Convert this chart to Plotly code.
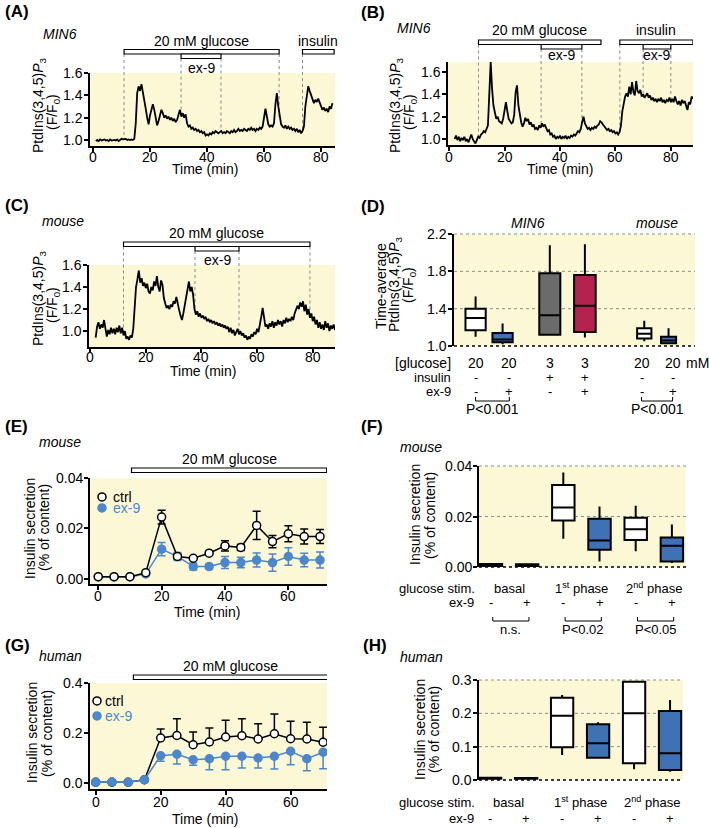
import plotly.graph_objects as go

W, H = 709, 828
FONT = "Liberation Sans, Arial, sans-serif"
YELLOW = "#fcf7d5"
BLUE = "#3e72b5"
BLUE_PT = "#4b87cc"
GREY = "#6b6b6b"
CRIMSON = "#b2234f"

# ---------------- data ----------------
# (A) MIN6, PtdIns(3,4,5)P3 ratio, one value per 0.5 min starting at 1 min
a_ratio = [
    0.99, 1.00, 0.99, 1.005, 0.995, 1.00, 1.005, 0.995, 1.00, 0.99,
    1.005, 0.995, 1.00, 1.00, 0.995, 1.005, 0.99, 1.00, 1.01, 1.005,
    1.005, 1.01, 1.00, 1.005, 1.00, 1.005, 1.00, 1.01, 1.15, 1.42,
    1.48, 1.44, 1.50, 1.43, 1.38, 1.28, 1.20, 1.14, 1.22, 1.28,
    1.32, 1.27, 1.20, 1.13, 1.17, 1.22, 1.27, 1.24, 1.20, 1.22,
    1.19, 1.21, 1.18, 1.20, 1.17, 1.19, 1.16, 1.18, 1.22, 1.27,
    1.21, 1.24, 1.20, 1.23, 1.15, 1.12, 1.13, 1.10, 1.11, 1.09,
    1.10, 1.08, 1.09, 1.07, 1.08, 1.06, 1.07, 1.04, 1.05, 1.04,
    1.06, 1.05, 1.07, 1.06, 1.08, 1.07, 1.06, 1.07, 1.08, 1.06,
    1.07, 1.06, 1.08, 1.07, 1.06, 1.08, 1.07, 1.09, 1.07, 1.08,
    1.10, 1.08, 1.09, 1.08, 1.10, 1.09, 1.08, 1.10, 1.09, 1.11,
    1.09, 1.10, 1.08, 1.10, 1.09, 1.11, 1.10, 1.12, 1.22, 1.28,
    1.21, 1.14, 1.12, 1.13, 1.12, 1.15, 1.32, 1.42, 1.30, 1.20,
    1.14, 1.12, 1.11, 1.13, 1.10, 1.12, 1.10, 1.11, 1.09, 1.10,
    1.08, 1.10, 1.07, 1.09, 1.06, 1.08, 1.12, 1.30, 1.42, 1.48,
    1.44, 1.40, 1.36, 1.33, 1.36, 1.34, 1.37, 1.33, 1.30, 1.27,
    1.29, 1.26, 1.28, 1.25, 1.30, 1.28, 1.33,
]
# (B) MIN6, starting at 2 min
b_ratio = [
    1.00, 1.03, 0.99, 1.02, 0.98, 1.01, 0.99, 1.02, 0.98, 1.00,
    0.97, 1.01, 1.04, 1.00, 0.98, 0.96, 0.99, 1.02, 1.01, 1.04,
    1.05, 1.07, 1.06, 1.09, 1.12, 1.40, 1.69, 1.45, 1.30, 1.24,
    1.18, 1.20, 1.16, 1.15, 1.14, 1.18, 1.28, 1.33, 1.25, 1.18,
    1.16, 1.14, 1.15, 1.22, 1.42, 1.48, 1.30, 1.20, 1.15, 1.11,
    1.14, 1.19, 1.16, 1.18, 1.13, 1.15, 1.11, 1.13, 1.09, 1.10,
    1.08, 1.12, 1.10, 1.14, 1.11, 1.13, 1.09, 1.07, 1.08, 1.04,
    1.05, 1.02, 1.03, 1.00, 1.02, 1.01, 1.03, 1.00, 1.02, 1.01,
    1.03, 1.00, 1.02, 1.01, 1.03, 1.02, 1.04, 1.03, 1.05, 1.07,
    1.06, 1.09, 1.15, 1.20, 1.14, 1.11, 1.09, 1.10, 1.08, 1.10,
    1.09, 1.11, 1.10, 1.12, 1.13, 1.16, 1.15, 1.13, 1.11, 1.10,
    1.08, 1.09, 1.07, 1.08, 1.06, 1.07, 1.05, 1.06, 1.04, 1.06,
    1.12, 1.25, 1.33, 1.38, 1.41, 1.38, 1.47, 1.40, 1.51, 1.42,
    1.39, 1.52, 1.43, 1.41, 1.44, 1.38, 1.40, 1.37, 1.39, 1.41,
    1.37, 1.39, 1.35, 1.37, 1.34, 1.36, 1.33, 1.36, 1.34, 1.37,
    1.33, 1.35, 1.32, 1.35, 1.34, 1.37, 1.33, 1.36, 1.33, 1.38,
    1.34, 1.31, 1.34, 1.30, 1.35, 1.32, 1.34, 1.29, 1.26, 1.33,
    1.31, 1.38, 1.36,
]
# (C) mouse beta cell, starting at 2 min
c_ratio = [
    0.94, 1.04, 1.08, 1.02, 1.06, 1.03, 1.10, 1.00, 0.95, 1.01,
    0.97, 1.03, 0.98, 1.02, 0.97, 1.03, 0.99, 1.05, 0.98, 1.03,
    0.96, 1.00, 0.93, 0.95, 0.92, 0.96, 0.94, 1.02, 1.20, 1.40,
    1.47, 1.55, 1.44, 1.48, 1.41, 1.44, 1.39, 1.43, 1.36, 1.34,
    1.40, 1.37, 1.45, 1.41, 1.50, 1.40, 1.36, 1.46, 1.42, 1.30,
    1.25, 1.21, 1.23, 1.20, 1.24, 1.22, 1.27, 1.25, 1.31, 1.24,
    1.19, 1.14, 1.10, 1.16, 1.24, 1.30, 1.38, 1.45, 1.36, 1.40,
    1.33, 1.20, 1.15, 1.18, 1.13, 1.16, 1.12, 1.14, 1.11, 1.13,
    1.09, 1.11, 1.08, 1.10, 1.07, 1.09, 1.06, 1.08, 1.05, 1.07,
    1.04, 1.06, 1.03, 1.05, 1.02, 1.04, 0.99, 1.03, 0.98, 1.01,
    0.96, 0.99, 1.02, 0.97, 1.00, 0.96, 0.98, 0.94, 0.96, 0.92,
    0.95, 0.93, 0.97, 0.95, 0.99, 0.97, 1.02, 0.99, 1.05, 1.13,
    1.21, 1.10, 1.04, 1.06, 1.02, 1.07, 1.04, 1.09, 1.03, 1.08,
    1.05, 1.10, 1.06, 1.09, 1.04, 1.10, 1.07, 1.12, 1.08, 1.11,
    1.09, 1.13, 1.10, 1.16, 1.19, 1.23, 1.20, 1.26, 1.22, 1.27,
    1.18, 1.24, 1.15, 1.20, 1.12, 1.16, 1.09, 1.13, 1.06, 1.10,
    1.03, 1.08, 1.02, 1.06, 1.01, 1.09, 1.03, 1.07, 1.00, 1.05,
    1.02, 1.06, 1.01,
]
a_time = [1.0 + 0.5 * i for i in range(len(a_ratio))]
b_time = [2.0 + 0.5 * i for i in range(len(b_ratio))]
c_time = [2.0 + 0.5 * i for i in range(len(c_ratio))]

# stimulus bars: (label, start min, end min, row)  row 1 hangs under row 0
a_bars = [("20 mM glucose", 10.9, 65.3, 0), ("ex-9", 30.9, 44.9, 1), ("insulin", 73.5, 84.6, 0)]
b_bars = [("20 mM glucose", 10.6, 54.8, 0), ("ex-9", 33.2, 47.9, 1),
          ("insulin", 61.6, 88.0, 0), ("ex-9", 70.0, 80.0, 1)]
c_bars = [("20 mM glucose", 12.0, 79.0, 0), ("ex-9", 37.7, 53.5, 1)]
a_drops = [(10.9, 0), (30.9, 1), (44.9, 1), (65.3, 0), (73.5, 0)]
b_drops = [(10.6, 0), (33.2, 1), (47.9, 1), (61.6, 0), (70.0, 1), (80.0, 1)]
c_drops = [(12.0, 0), (37.7, 1), (53.5, 1), (79.0, 0)]

# (D) time-averaged ratio, box summaries
d_pos = [0.8, 1.8, 3.55, 4.85, 7.05, 7.95]
d_low = [1.10, 1.02, 1.11, 1.09, 1.05, 1.02]
d_q1 = [1.17, 1.04, 1.12, 1.15, 1.08, 1.03]
d_med = [1.30, 1.07, 1.33, 1.43, 1.13, 1.06]
d_q3 = [1.40, 1.14, 1.78, 1.76, 1.19, 1.10]
d_high = [1.53, 1.24, 2.08, 2.09, 1.27, 1.19]
d_glucose = ["20", "20", "3", "3", "20", "20"]
d_insulin = ["-", "-", "+", "+", "-", "-"]
d_ex9 = ["-", "+", "-", "+", "-", "+"]

# (E) mouse islet secretion
sec_time = [0, 5, 10, 15, 20, 25, 30, 35, 40, 45, 50, 55, 60, 65, 70]
e_ctrl = [0.0009, 0.0009, 0.0009, 0.0025, 0.0245, 0.0089, 0.0082, 0.0102, 0.0131, 0.0125,
          0.0212, 0.0148, 0.0179, 0.0168, 0.0168]
e_ctrl_err = [0.0002, 0.0002, 0.0002, 0.0004, 0.0027, 0.0010, 0.0006, 0.0007, 0.0020, 0.0012,
              0.0056, 0.0024, 0.0032, 0.0030, 0.0028]
e_ex9 = [0.0008, 0.0008, 0.0008, 0.0020, 0.0118, 0.0089, 0.0049, 0.0049, 0.0065, 0.0065,
         0.0075, 0.0065, 0.0089, 0.0075, 0.0075]
e_ex9_err = [0.0001, 0.0001, 0.0001, 0.0003, 0.0026, 0.0016, 0.0014, 0.0010, 0.0024, 0.0021,
             0.0028, 0.0034, 0.0035, 0.0027, 0.0032]

# (F) mouse, basal / 1st / 2nd phase
phase_pos = [1, 2, 3, 4, 5, 6]
f_low = [0.0003, 0.0003, 0.0112, 0.0022, 0.0062, 0.0016]
f_q1 = [0.0004, 0.0004, 0.0184, 0.0068, 0.0107, 0.0022]
f_med = [0.0008, 0.0007, 0.0236, 0.0105, 0.0150, 0.0084]
f_q3 = [0.0012, 0.0011, 0.0325, 0.0191, 0.0195, 0.0117]
f_high = [0.0013, 0.0012, 0.0374, 0.0240, 0.0243, 0.0168]
phase_names = ["basal", "1<sup>st</sup> phase", "2<sup>nd</sup> phase"]
phase_ex9 = ["-", "+", "-", "+", "-", "+"]
f_pvals = ["n.s.", "P<0.02", "P<0.05"]

# (G) human islet secretion
g_ctrl = [0.003, 0.003, 0.003, 0.013, 0.180, 0.190, 0.153, 0.164, 0.184, 0.189,
          0.176, 0.197, 0.177, 0.176, 0.163]
g_ctrl_err = [0, 0, 0, 0, 0.036, 0.067, 0.051, 0.056, 0.067, 0.068,
              0.061, 0.079, 0.070, 0.067, 0.060]
g_ex9 = [0.003, 0.004, 0.003, 0.013, 0.109, 0.115, 0.093, 0.097, 0.107, 0.107,
         0.100, 0.107, 0.127, 0.097, 0.123]
g_ex9_err = [0, 0, 0, 0, 0.022, 0.039, 0.022, 0.044, 0.054, 0.047,
             0.040, 0.051, 0.054, 0.048, 0.066]

# (H) human, basal / 1st / 2nd phase
h_low = [0.003, 0.003, 0.075, 0.067, 0.032, 0.025]
h_q1 = [0.004, 0.004, 0.098, 0.067, 0.050, 0.030]
h_med = [0.005, 0.005, 0.193, 0.110, 0.200, 0.080]
h_q3 = [0.007, 0.006, 0.247, 0.167, 0.295, 0.207]
h_high = [0.008, 0.007, 0.255, 0.173, 0.297, 0.240]

# axis ticks
time_ticks = [0, 20, 40, 60, 80]
sec_ticks = [0, 20, 40, 60]
ratio_ticks = [1.0, 1.2, 1.4, 1.6]
d_ticks = [1.0, 1.4, 1.8, 2.2]
mouse_sec_ticks = [0, 0.02, 0.04]
human_sec_ticks = [0, 0.2, 0.4]
human_box_ticks = [0, 0.1, 0.2, 0.3]

# ---------------- layout helpers ----------------
def xp(px):
    return px / W


def yp(py):
    return 1 - py / H


# pixel boxes of each plot area and axis ranges
geo = {
    "A": dict(n="", px=(90, 335), py=(73, 146), xr=(-1.05, 84.9), yr=(0.946, 1.6)),
    "B": dict(n="2", px=(448, 693), py=(62, 145), xr=(-0.4, 88.0), yr=(0.946, 1.69)),
    "C": dict(n="3", px=(89, 335), py=(265, 347), xr=(-0.4, 88.0), yr=(0.855, 1.6)),
    "D": dict(n="4", px=(454, 695), py=(234, 346), xr=(0, 8.93), yr=(1.0, 2.2)),
    "E": dict(n="5", px=(90, 327), py=(478, 584), xr=(-2.6, 72.2), yr=(-0.002, 0.04)),
    "F": dict(n="6", px=(479, 686), py=(466, 567), xr=(0.67, 6.39), yr=(0, 0.04)),
    "G": dict(n="7", px=(90, 327), py=(683, 789), xr=(-1.75, 71.2), yr=(-0.024, 0.4)),
    "H": dict(n="8", px=(479, 683), py=(680, 780), xr=(0.69, 6.36), yr=(0, 0.3)),
}

# (x ticks, x label offset below axis, y ticks, y label format)
tick_cfg = {
    "A": (time_ticks, 11, ratio_ticks, "%.1f"),
    "B": (time_ticks, 12, ratio_ticks, "%.1f"),
    "C": (time_ticks, 10, ratio_ticks, "%.1f"),
    "D": (None, 0, d_ticks, "%.1f"),
    "E": (sec_ticks, 12, mouse_sec_ticks, "%.2f"),
    "F": (None, 0, mouse_sec_ticks, "%.2f"),
    "G": (sec_ticks, 12.5, human_sec_ticks, "%.1f"),
    "H": (None, 0, human_box_ticks, "%.1f"),
}


def dy(p, v):
    g = geo[p]
    top, bot = g["py"]
    lo, hi = g["yr"]
    return yp(bot - (v - lo) / (hi - lo) * (bot - top))


axis_base = dict(showline=True, linecolor="black", linewidth=1.5, ticks="outside",
                 ticklen=4, tickwidth=1.5, tickcolor="black", showgrid=False,
                 zeroline=False, fixedrange=True, showticklabels=False)

layout = dict(width=W, height=H, autosize=False, margin=dict(l=0, r=0, t=0, b=0),
              paper_bgcolor="white", plot_bgcolor=YELLOW,
              font=dict(family=FONT, size=14, color="black"))

fig = go.Figure()
shapes = []
annotations = []


def text(x, y, s, xref="paper", size=14, yref="paper", **kw):
    if xref == "paper":
        x = xp(x)
    if yref == "paper":
        y = yp(y)
    d = dict(x=x, y=y, xref=xref, yref=yref, text=s, showarrow=False,
             font=dict(size=size, color=kw.pop("color", "black"), family=FONT),
             xanchor=kw.pop("xanchor", "center"), yanchor="middle")
    d.update(kw)
    annotations.append(d)


def ytitle(x, y, s, size=14):
    text(x, y, s, size=size, textangle=-90)


for p, g in geo.items():
    n = g["n"]
    xt, xoff, yt, yfmt = tick_cfg[p]
    xa = dict(axis_base, domain=[xp(g["px"][0]), xp(g["px"][1])], range=list(g["xr"]),
              anchor="y" + n)
    if xt is None:
        xa["visible"] = False
    else:
        xa["tickvals"] = xt
        for v in xt:
            text(v, g["py"][1] + xoff, str(v), xref="x" + n)
    ya = dict(axis_base, domain=[yp(g["py"][1]), yp(g["py"][0])], range=list(g["yr"]),
              anchor="x" + n, tickvals=yt)
    for v in yt:
        text(g["px"][0] - 5, v, yfmt % v, yref="y" + n, xanchor="right")
    layout["xaxis" + n] = xa
    layout["yaxis" + n] = ya

# ---------------- (A)-(C) traces ----------------
trace_panels = [
    ("A", a_time, a_ratio, a_bars, a_drops, 49.5, 41, 67.5),
    ("B", b_time, b_ratio, b_bars, b_drops, 40.0, 30, 55),
    ("C", c_time, c_ratio, c_bars, c_drops, 242.0, 233, 260),
]
BAR_H = 4.5
for p, t, v, bars, drops, bar_top, lab_up, lab_dn in trace_panels:
    n = geo[p]["n"]
    fig.add_trace(go.Scatter(x=t, y=v, mode="lines", line=dict(color="black", width=1.8),
                             xaxis="x" + n, yaxis="y" + n, showlegend=False, hoverinfo="skip"))
    for label, t0, t1, row in bars:
        top = bar_top + row * BAR_H
        shapes.append(dict(type="rect", xref="x" + n, yref="paper", x0=t0, x1=t1,
                           y0=yp(top + BAR_H), y1=yp(top), fillcolor="white",
                           line=dict(color="black", width=1.2)))
        text((t0 + t1) / 2, lab_up if row == 0 else lab_dn, label, xref="x" + n)
    for td, row in drops:
        k = min(range(len(t)), key=lambda i: abs(t[i] - td))
        shapes.append(dict(type="line", xref="x" + n, yref="paper", x0=td, x1=td,
                           y0=yp(bar_top + (row + 1) * BAR_H), y1=dy(p, v[k]), layer="below",
                           line=dict(color="#8a8a8a", width=1, dash="dot")))

# ---------------- box panels ----------------
def add_boxes(p, pos, low, q1, med, q3, high, fills, widths):
    n = geo[p]["n"]
    for i in range(len(pos)):
        fig.add_trace(go.Box(x=[pos[i]], lowerfence=[low[i]], q1=[q1[i]], median=[med[i]],
                             q3=[q3[i]], upperfence=[high[i]], orientation="v",
                             width=widths[i], whiskerwidth=0, fillcolor=fills[i],
                             line=dict(color="black", width=2), boxpoints=False,
                             xaxis="x" + n, yaxis="y" + n, showlegend=False, hoverinfo="skip"))


def grid(p, vals):
    n = geo[p]["n"]
    for v in vals:
        bottom = v == geo[p]["yr"][0]
        shapes.append(dict(type="line", xref="x" + n + " domain", yref="paper", x0=0, x1=1,
                           y0=dy(p, v), y1=dy(p, v), layer="below",
                           line=dict(color="black" if bottom else "#8c8c8c",
                                     width=1.5 if bottom else 1, dash="dot")))


grid("D", d_ticks)
add_boxes("D", d_pos, d_low, d_q1, d_med, d_q3, d_high,
          ["white", BLUE, GREY, CRIMSON, "white", BLUE],
          [0.75, 0.75, 0.78, 0.8, 0.53, 0.56])
grid("F", mouse_sec_ticks)
add_boxes("F", phase_pos, f_low, f_q1, f_med, f_q3, f_high,
          ["white", BLUE] * 3, [0.62] * 6)
grid("H", human_box_ticks)
add_boxes("H", phase_pos, h_low, h_q1, h_med, h_q3, h_high,
          ["white", BLUE] * 3, [0.62] * 6)

# ---------------- (E) and (G) secretion time courses ----------------
def secretion(p, ctrl, ctrl_err_up, ctrl_err_dn, ex9, ex9_err_up, ex9_err_dn,
              ctrl_first, lg_ctrl, lg_ex9):
    n = geo[p]["n"]
    series = [
        (ctrl, ctrl_err_up, ctrl_err_dn, "black", "white", lg_ctrl),
        (ex9, ex9_err_up, ex9_err_dn, BLUE_PT, BLUE_PT, lg_ex9),
    ]
    if not ctrl_first:
        series = series[::-1]
    for y, eu, ed, col, fill, lg in series:
        fig.add_trace(go.Scatter(x=sec_time, y=y, mode="lines", line=dict(color=col, width=1.5),
                                 xaxis="x" + n, yaxis="y" + n, showlegend=False, hoverinfo="skip"))
        fig.add_trace(go.Scatter(x=sec_time, y=y, mode="markers", name="", legend=lg,
                                 marker=dict(size=8, color=fill, line=dict(color=col, width=1.5)),
                                 error_y=dict(type="data", symmetric=False, array=eu, arrayminus=ed,
                                              color=col, thickness=1.5, width=4),
                                 xaxis="x" + n, yaxis="y" + n, hoverinfo="skip"))


secretion("E", e_ctrl, e_ctrl_err, e_ctrl_err, e_ex9, e_ex9_err, e_ex9_err,
          False, "legend", "legend2")
secretion("G", g_ctrl, g_ctrl_err, [0] * len(g_ctrl), g_ex9, [0] * len(g_ex9), g_ex9_err,
          True, "legend3", "legend4")

# legend markers (symbol only) with their labels written next to them
for key, (mx, my, tx, lab, col) in {
        "legend": (102, 497, 111, "ctrl", "black"),
        "legend2": (102, 508, 111, "ex-9", BLUE_PT),
        "legend3": (97, 701, 103, "ctrl", "black"),
        "legend4": (97, 716, 103, "ex-9", BLUE_PT)}.items():
    layout[key] = dict(x=xp(mx - 20), y=yp(my), xanchor="left", yanchor="middle",
                       bgcolor="rgba(0,0,0,0)", borderwidth=0, itemwidth=30,
                       font=dict(size=13, family=FONT, color="black"))
    text(tx, my, lab, xanchor="left", color=col)

for p, (gy, bar_t0, bar_t1) in {"E": (468, 10.5, 72.1), "G": (675, 11.6, 71.5)}.items():
    n = geo[p]["n"]
    shapes.append(dict(type="rect", xref="x" + n, yref="paper", x0=bar_t0, x1=bar_t1,
                       y0=yp(gy + BAR_H), y1=yp(gy), fillcolor="white",
                       line=dict(color="black", width=1.2)))
    text((bar_t0 + bar_t1) / 2, gy - 9, "20 mM glucose", xref="x" + n)

# ---------------- text ----------------
for lab, x, y in [("(A)", 3, 12), ("(B)", 359, 13), ("(C)", 3, 205), ("(D)", 359, 206),
                  ("(E)", 3, 427), ("(F)", 359, 427), ("(G)", 3, 645), ("(H)", 361, 645)]:
    text(x, y, "<b>%s</b>" % lab, size=17, xanchor="left")

for lab, x, y in [("MIN6", 41, 34), ("MIN6", 395, 28), ("mouse", 40, 221), ("MIN6", 528, 223),
                  ("mouse", 657, 223), ("mouse", 37, 442), ("mouse", 398, 447),
                  ("human", 37, 656), ("human", 398, 657)]:
    kw = {} if x > 500 and x < 700 and y == 223 else {"xanchor": "left"}
    text(x, y, "<i>%s</i>" % lab, **kw)

for x, y in [(205, 169), (560, 169), (203, 371), (207, 612), (205, 819)]:
    text(x, y, "Time (min)")

pip3 = "PtdIns(3,4,5)<i>P</i><sub>3</sub>"
ff0 = "(F/F<sub>0</sub>)"
ytitle(39, 105, pip3)
ytitle(53, 112, ff0)
ytitle(396, 105, pip3)
ytitle(410, 112, ff0)
ytitle(39, 298, pip3)
ytitle(53, 305, ff0)
ytitle(381, 286, "Time-average")
ytitle(395, 284, pip3)
ytitle(409, 285, ff0)
for x1, x2, y in [(30, 44, 528), (415, 430, 515), (32, 47, 733), (420, 434, 730)]:
    ytitle(x1, y, "Insulin secretion")
    ytitle(x2, y, "(% of content)")

# (D) condition rows
d_lab_x = [0.8, 2.05, 3.55, 4.85, 6.95, 8.1]
text(453, 363, "[glucose]", xanchor="right")
text(453, 377, "insulin", xanchor="right", size=13)
text(453, 391, "ex-9", xanchor="right", size=13)
for i in range(6):
    text(d_lab_x[i], 363, d_glucose[i], xref="x4")
    text(d_lab_x[i], 377, d_insulin[i], xref="x4", size=13)
    text(d_lab_x[i], 391, d_ex9[i], xref="x4", size=13)
text(697, 363, "mM")


def bracket(xref, xa, xb, y, label, size=13):
    shapes.append(dict(type="path", xref=xref, yref="paper",
                       path="M %s,%s L %s,%s L %s,%s L %s,%s" % (xa, yp(y - 4), xa, yp(y), xb, yp(y), xb, yp(y - 4)),
                       line=dict(color="black", width=1)))
    text((xa + xb) / 2, y + 8, label, xref=xref, size=size)


bracket("x4", d_lab_x[0], d_lab_x[1], 401, "P<0.001", size=14)
bracket("x4", d_lab_x[4], d_lab_x[5], 401, "P<0.001", size=14)

# (F)/(H) condition rows
for p, y1, y2 in [("F", 588, 602), ("H", 802, 818)]:
    xr = "x" + geo[p]["n"]
    text(477, y1, "glucose stim.", xanchor="right", size=13)
    text(476, y2, "ex-9", xanchor="right", size=13)
    for k, name in enumerate(phase_names):
        text(phase_pos[2 * k] + 0.5, y1, name, xref=xr, size=13)
    for i in range(6):
        text(phase_pos[i], y2, phase_ex9[i], xref=xr, size=13)
for k, lab in enumerate(f_pvals):
    bracket("x6", phase_pos[2 * k] + 0.05, phase_pos[2 * k + 1] + 0.05, 621, lab)

layout["shapes"] = shapes
layout["annotations"] = annotations
fig.update_layout(**layout)

fig.write_html("out.html", config={"displayModeBar": False},
               post_script="document.body.style.margin='0px';")
